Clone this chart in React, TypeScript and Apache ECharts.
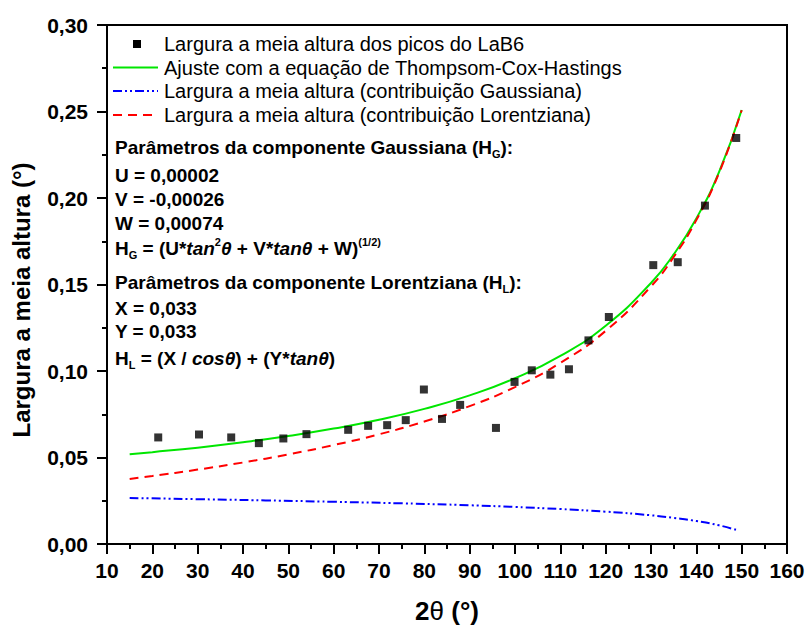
import React, { useEffect, useRef } from "react";
import * as echarts from "echarts";

// Measured FWHM of the LaB6 reflections
const peakTwoTheta = [21.3, 30.3, 37.4, 43.5, 48.9, 54.0, 63.2, 67.6, 71.8, 75.9, 79.9, 83.9, 87.9, 95.8, 99.9, 103.7, 107.8, 111.9, 116.2, 120.7, 130.5, 135.9, 141.9, 148.8];
const peakFwhm = [0.0616, 0.0633, 0.0616, 0.0583, 0.061, 0.0635, 0.066, 0.0683, 0.0687, 0.0716, 0.0893, 0.0723, 0.0804, 0.0671, 0.0937, 0.1004, 0.0979, 0.101, 0.1177, 0.1312, 0.1612, 0.1629, 0.1956, 0.2347];

// Thompson-Cox-Hastings fit and its Lorentzian part
const fitTwoTheta = [15, 20, 30, 40, 50, 60, 70, 80, 90, 100, 110, 120, 130, 135, 140, 145, 150];
const fitTchFwhm = [0.0519, 0.0531, 0.0557, 0.0588, 0.0624, 0.0667, 0.0718, 0.0781, 0.0859, 0.0958, 0.1087, 0.1262, 0.1509, 0.1674, 0.1882, 0.215, 0.2509];
const lorentzFwhm = [0.0376, 0.0393, 0.043, 0.0471, 0.0518, 0.0572, 0.0634, 0.0708, 0.0797, 0.0907, 0.1047, 0.1232, 0.1489, 0.1659, 0.1872, 0.2144, 0.2507];

// Gaussian part
const gaussTwoTheta = [15, 30, 45, 60, 75, 90, 100, 110, 120, 130, 135, 140, 145, 149];
const gaussFwhm = [0.0266, 0.0259, 0.0252, 0.0244, 0.0235, 0.0224, 0.0214, 0.0202, 0.0187, 0.0166, 0.0151, 0.0133, 0.0108, 0.008];

const seriesNames = [
  "Largura a meia altura dos picos do LaB6",
  "Ajuste com a equação de Thompsom-Cox-Hastings",
  "Largura a meia altura (contribuição Gaussiana)",
  "Largura a meia altura (contribuição Lorentziana)",
];

const GREEN = "#00e600";
const BLUE = "#0000ff";
const RED = "#ff0000";
const BLUE_DASH = [9, 3, 2, 3, 2, 3];
const RED_DASH = [9, 6];

const paramLines = [
  "{b|Parâmetros da componente Gaussiana (H}{sub|G}{b|):}",
  "{b|U = 0,00002}",
  "{b|V = -0,00026}",
  "{b|W = 0,00074}",
  "{b|H}{sub|G}{b| = (U*}{i|tan}{sup|2}{i|θ}{b| + V*}{i|tanθ}{b| + W)}{sup|(1/2)}",
  "{b|Parâmetros da componente Lorentziana (H}{sub|L}{b|):}",
  "{b|X = 0,033}",
  "{b|Y = 0,033}",
  "{b|H}{sub|L}{b| = (X / }{i|cosθ}{b|) + (Y*}{i|tanθ}{b|)}",
];
const paramLineY = [147, 175, 199, 223, 248, 282, 308, 331, 358];
const legendRowY = [44, 67.5, 91, 115];

const FONT = "'Liberation Sans', Arial, Helvetica, sans-serif";

const pairs = (xs: number[], ys: number[]) => xs.map((x, i) => [x, ys[i]]);

export default function App() {
  const ref = useRef<HTMLDivElement>(null);

  useEffect(() => {
    document.body.style.margin = "0";
    const chart = echarts.init(ref.current!, null, { renderer: "svg" });

    const richStyles = {
      b: { fontFamily: FONT, fontSize: 19, fontWeight: "bold", lineHeight: 24, fill: "#000" },
      i: { fontFamily: FONT, fontSize: 19, fontWeight: "bold", fontStyle: "italic", lineHeight: 24, fill: "#000" },
      sub: { fontFamily: FONT, fontSize: 11, fontWeight: "bold", lineHeight: 10, verticalAlign: "bottom", fill: "#000" },
      sup: { fontFamily: FONT, fontSize: 11, fontWeight: "bold", lineHeight: 8, verticalAlign: "top", fill: "#000" },
    };

    const axisLineStyle = { color: "#000", width: 2 };

    // Legend drawn as graphic elements: key sample + label per row
    const legendKeys: any[] = [
      { type: "rect", shape: { x: 133, y: legendRowY[0] - 4, width: 8, height: 8 }, style: { fill: "#000" } },
      { type: "line", shape: { x1: 113, y1: legendRowY[1], x2: 158, y2: legendRowY[1] }, style: { stroke: GREEN, lineWidth: 2 } },
      { type: "line", shape: { x1: 113, y1: legendRowY[2], x2: 158, y2: legendRowY[2] }, style: { stroke: BLUE, lineWidth: 2, lineDash: BLUE_DASH } },
      { type: "line", shape: { x1: 113, y1: legendRowY[3], x2: 158, y2: legendRowY[3] }, style: { stroke: RED, lineWidth: 2, lineDash: RED_DASH } },
    ];
    const legendTexts = seriesNames.map((name, i) => ({
      type: "text",
      x: 164,
      y: legendRowY[i],
      style: { text: name, fontFamily: FONT, fontSize: 20, fill: "#000", align: "left", verticalAlign: "middle" },
    }));

    chart.setOption({
      animation: false,
      backgroundColor: "#fff",
      grid: {
        left: 107,
        right: 21,
        top: 25,
        bottom: 87,
        show: true,
        borderColor: "#000",
        borderWidth: 2,
      },
      xAxis: {
        type: "value",
        min: 10,
        max: 160,
        interval: 10,
        axisLine: { lineStyle: axisLineStyle },
        axisTick: { length: 10, lineStyle: axisLineStyle },
        minorTick: { show: true, splitNumber: 2, length: 5, lineStyle: axisLineStyle },
        splitLine: { show: false },
        axisLabel: { fontFamily: FONT, fontSize: 21, fontWeight: "bold", color: "#000", margin: 16 },
      },
      yAxis: {
        type: "value",
        min: 0,
        max: 0.3,
        interval: 0.05,
        axisLine: { lineStyle: axisLineStyle },
        axisTick: { length: 10, lineStyle: axisLineStyle },
        minorTick: { show: true, splitNumber: 2, length: 5, lineStyle: axisLineStyle },
        splitLine: { show: false },
        axisLabel: {
          fontFamily: FONT,
          fontSize: 21,
          fontWeight: "bold",
          color: "#000",
          margin: 19,
          formatter: (v: number) => v.toFixed(2).replace(".", ","),
        },
      },
      series: [
        {
          name: seriesNames[0],
          type: "scatter",
          symbol: "rect",
          symbolSize: 8,
          itemStyle: { color: "#000" },
          z: 5,
          data: pairs(peakTwoTheta, peakFwhm),
        },
        {
          name: seriesNames[1],
          type: "line",
          symbol: "none",
          smooth: true,
          lineStyle: { color: GREEN, width: 2 },
          itemStyle: { color: GREEN },
          data: pairs(fitTwoTheta, fitTchFwhm),
        },
        {
          name: seriesNames[2],
          type: "line",
          symbol: "none",
          smooth: true,
          lineStyle: { color: BLUE, width: 2, type: BLUE_DASH },
          itemStyle: { color: BLUE },
          data: pairs(gaussTwoTheta, gaussFwhm),
        },
        {
          name: seriesNames[3],
          type: "line",
          symbol: "none",
          smooth: true,
          lineStyle: { color: RED, width: 2, type: RED_DASH },
          itemStyle: { color: RED },
          data: pairs(fitTwoTheta, lorentzFwhm),
        },
      ],
      graphic: [
        ...legendKeys.map((g) => ({ ...g, z: 10 })),
        ...legendTexts.map((g) => ({ ...g, z: 10 })),
        ...paramLines.map((t, i) => ({
          type: "text",
          x: 115,
          y: paramLineY[i],
          z: 10,
          style: { text: t, rich: richStyles, align: "left", verticalAlign: "middle" },
        })),
        {
          type: "text",
          x: 447,
          y: 611,
          z: 10,
          style: {
            text: "{b|2}{t|θ}{b| (°)}",
            align: "center",
            verticalAlign: "middle",
            rich: {
              b: { fontFamily: FONT, fontSize: 26, fontWeight: "bold", fill: "#000" },
              t: { fontFamily: FONT, fontSize: 26, fill: "#000" },
            },
          },
        },
        {
          type: "text",
          x: 21,
          y: 300,
          rotation: Math.PI / 2,
          z: 10,
          style: {
            text: "Largura a meia altura (°)",
            align: "center",
            verticalAlign: "middle",
            fontFamily: FONT,
            fontSize: 24,
            fontWeight: "bold",
            fill: "#000",
          },
        },
      ],
    });

    return () => chart.dispose();
  }, []);

  return <div ref={ref} style={{ width: 808, height: 631 }} />;
}
